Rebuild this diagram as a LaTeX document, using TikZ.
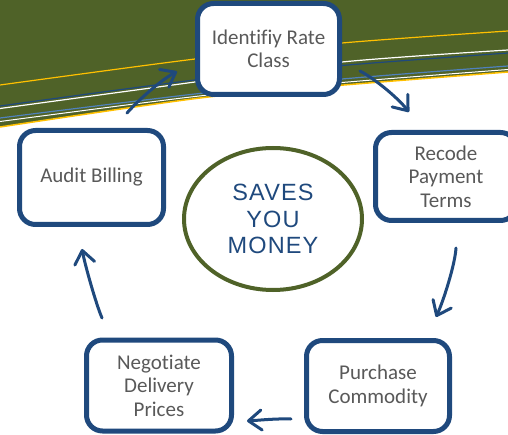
\documentclass[tikz,border=0pt]{standalone}
\usepackage{fontspec}
\setmainfont{Carlito}[Ligatures=NoCommon]
\newfontfamily\moneyfont{Liberation Sans}[LetterSpace=5]
\usetikzlibrary{arrows.meta,shapes.geometric}
\definecolor{bgolive}{HTML}{4F6228}
\definecolor{boxblue}{HTML}{1F497D}
\definecolor{txtgray}{HTML}{595959}
\definecolor{lineorange}{HTML}{FFC000}
\definecolor{steelblue}{HTML}{4F81BD}
\begin{document}
\begin{tikzpicture}[x=1pt,y=-1pt,
  stepbox/.style={draw=boxblue, line width=5pt, rounded corners=16pt, fill=white,
    align=center, text=txtgray, font=\fontsize{21}{23.5}\selectfont, inner sep=0pt},
  flow/.style={draw=boxblue, line width=3pt, line cap=round,
    -{Straight Barb[length=13pt,width=20pt,line cap=round,line join=round]}},
  band/.style={line width=1.2pt}]
\useasboundingbox (0,0) rectangle (508,435);
% background band
\fill[bgolive] (0,0) -- (508,0) -- plot[smooth] coordinates {(508,72) (344,85) (200,98) (0,127)} -- cycle;
\draw[band, lineorange] plot[smooth] coordinates {(0,85) (195,59) (342,43) (508,31)};
\draw[band, boxblue] plot[smooth] coordinates {(0,106) (195,80) (342,65.5) (508,53)};
\draw[band, white] plot[smooth] coordinates {(0,108.5) (195,82) (342,62) (508,50)};
\draw[band, steelblue] plot[smooth] coordinates {(0,118) (195,94) (342,79) (508,66)};
\draw[line width=1pt, white] plot[smooth] coordinates {(0,121.5) (195,96.5) (342,82.5) (508,69.5)};
\draw[line width=1.5pt, lineorange] plot[smooth] coordinates {(0,127) (200,98) (344,85) (508,72)};
% centre
\node[ellipse, draw=bgolive, line width=4pt, minimum width=178pt, minimum height=142pt,
  inner sep=0pt, align=center, text=boxblue,
  font=\moneyfont\fontsize{23.5}{26.5}\selectfont] (money) at (273,219) {SAVES\\YOU\\MONEY};
% boxes
\node[stepbox, minimum width=142pt, minimum height=91pt] (rate) at (268.5,49) {Identifiy Rate\\Class};
\node[stepbox, minimum width=141pt, minimum height=88pt] (recode) at (446,176.5) {Recode\\Payment\\Terms};
\node[stepbox, minimum width=143pt, minimum height=91pt] (purchase) at (378,386) {Purchase\\Commodity};
\node[stepbox, minimum width=145pt, minimum height=91pt] (negotiate) at (159,385.5) {Negotiate\\Delivery\\Prices};
\node[stepbox, minimum width=144pt, minimum height=94pt] (audit) at (91.5,177.5) {Audit Billing};
% arrow ends
\coordinate (a1s) at (127,113); \coordinate (a1e) at (177,71.5);
\coordinate (a2s) at (360,71);  \coordinate (a2e) at (409,112);
\coordinate (a3s) at (456,248); \coordinate (a3e) at (436,317);
\coordinate (a4s) at (291,419); \coordinate (a4e) at (247,421);
\coordinate (a5s) at (102,318); \coordinate (a5e) at (82,249);
\draw[flow] (a1s) .. controls (139,99.5) and (161,80) .. (a1e);
\draw[flow] (a2s) .. controls (375,79) and (397,97) .. (a2e);
\draw[flow] (a3s) .. controls (455,265) and (443,302) .. (a3e);
\draw[flow] (a4s) .. controls (276,418.5) and (262,420) .. (a4e);
\draw[flow] (a5s) .. controls (96,304) and (85,265) .. (a5e);
\end{tikzpicture}
\end{document}
